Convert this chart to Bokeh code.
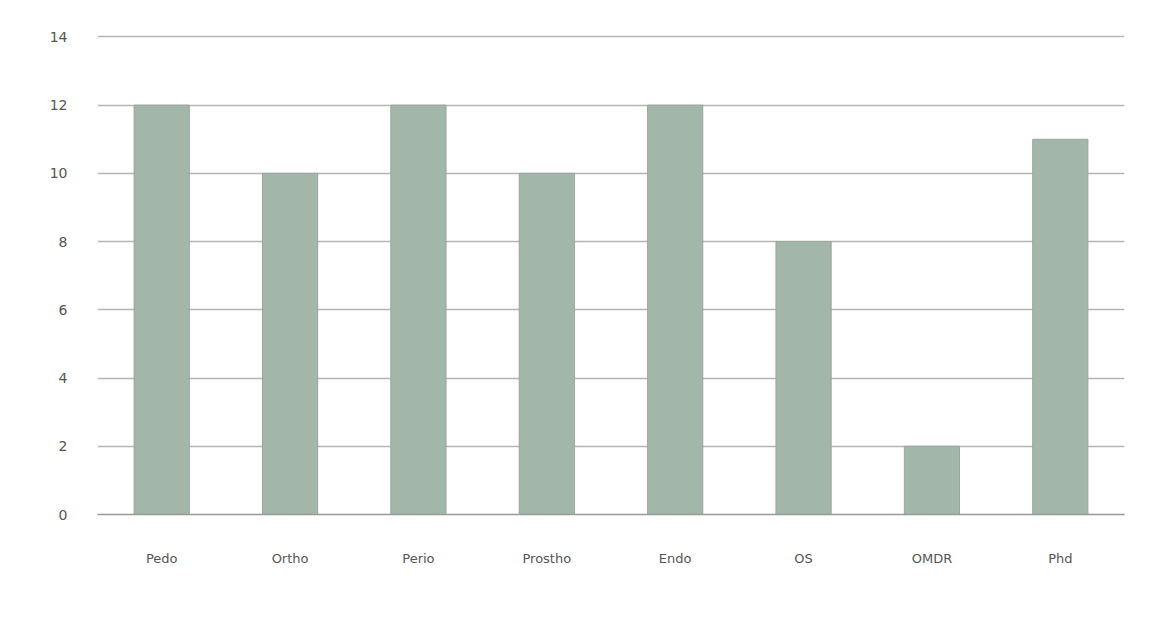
from bokeh.plotting import figure
from bokeh.models import FactorRange, Range1d, FixedTicker, ColumnDataSource
from bokeh.embed import file_html
from bokeh.resources import INLINE

categories = ["Pedo", "Ortho", "Perio", "Prostho", "Endo", "OS", "OMDR", "Phd"]
values = [12, 10, 12, 10, 12, 8, 2, 11]
y_ticks = [0, 2, 4, 6, 8, 10, 12, 14]

src = ColumnDataSource(dict(cat=categories, val=values))

p = figure(x_range=FactorRange(*categories, range_padding=0), y_range=Range1d(0, 14.1),
           width=1136, height=606, output_backend="svg", toolbar_location=None,
           min_border_left=97, min_border_right=12, min_border_top=33, min_border_bottom=92)

p.vbar(x="cat", top="val", width=0.43, source=src, fill_color="#a2b7aa",
       line_color="#9aa59f", line_width=1)

p.outline_line_color = None
p.background_fill_color = "white"
p.border_fill_color = "white"

p.ygrid.ticker = FixedTicker(ticks=y_ticks)
p.ygrid.grid_line_color = "#b5b5b5"
p.ygrid.grid_line_width = 1.5
p.xgrid.grid_line_color = None

p.yaxis.ticker = FixedTicker(ticks=y_ticks)
p.yaxis.axis_line_color = None
p.yaxis.major_tick_line_color = None
p.yaxis.minor_tick_line_color = None
p.yaxis.major_label_standoff = 24
p.yaxis.major_label_text_font = "DejaVu Sans"
p.yaxis.major_label_text_font_size = "14px"
p.yaxis.major_label_text_color = "#555555"

p.xaxis.axis_line_color = "#999999"
p.xaxis.axis_line_width = 1.5
p.xaxis.major_tick_line_color = None
p.xaxis.minor_tick_line_color = None
p.xaxis.major_label_standoff = 30
p.xaxis.major_label_text_font = "DejaVu Sans"
p.xaxis.major_label_text_font_size = "13px"
p.xaxis.major_label_text_color = "#555555"

open("out.html", "w").write(file_html(p, INLINE))
